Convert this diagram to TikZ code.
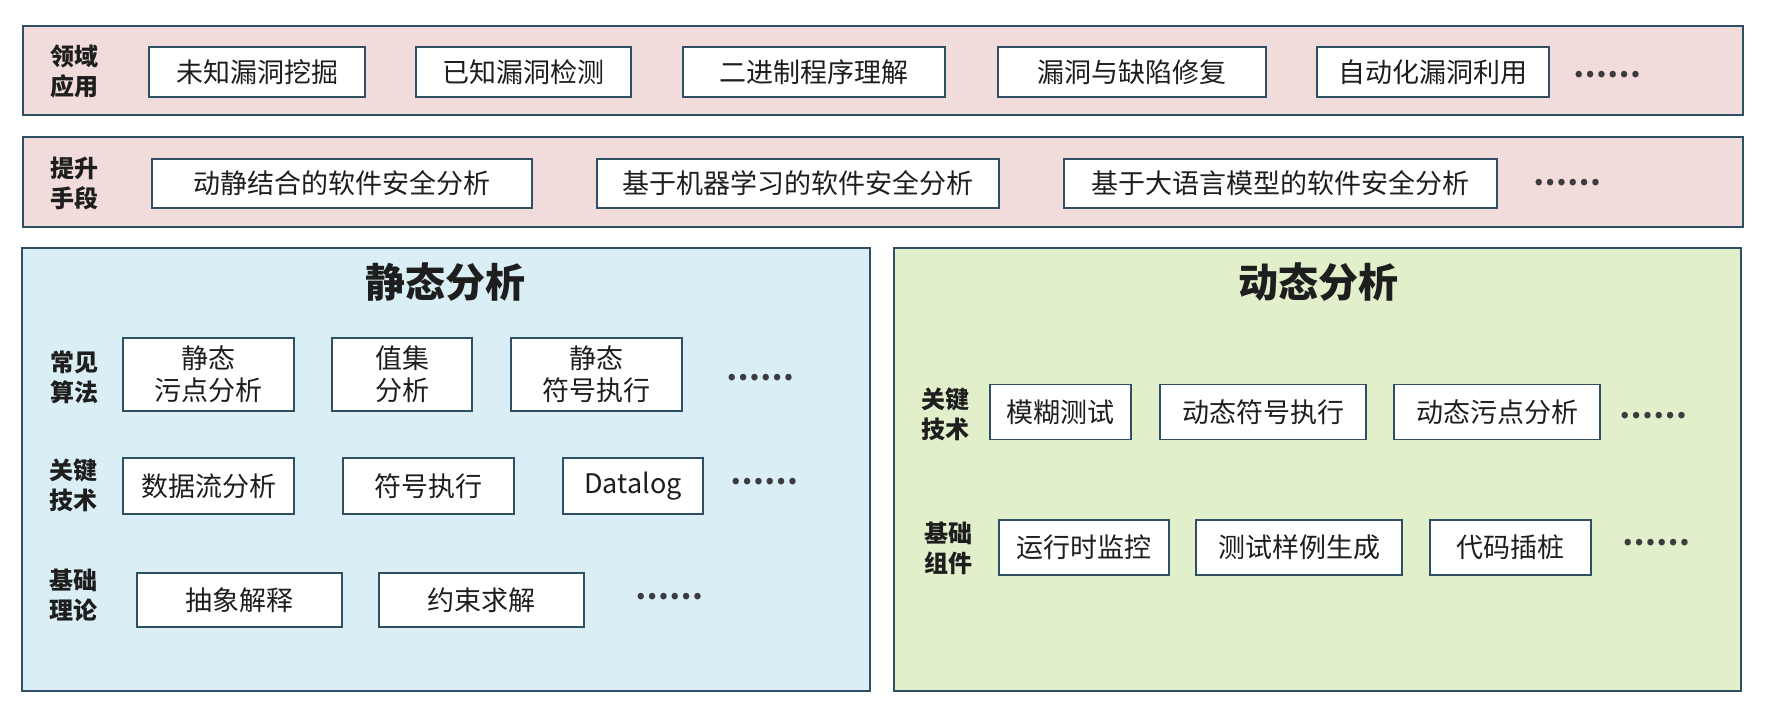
\documentclass[tikz,border=0pt]{standalone}
\usepackage{fontspec}
\setmainfont{Noto Sans CJK SC}
\usepackage{xcolor}
\usepackage{tikz}
\definecolor{Rosa}      {RGB}{242,220,219}
\definecolor{Celeste}   {RGB}{218,238,245}
\definecolor{VerdeClaro}{RGB}{226,239,203}
\definecolor{Borde}     {RGB}{47, 80, 100}
\definecolor{Texto}     {RGB}{30, 30, 30}
\definecolor{Puntos}    {RGB}{60, 60, 64}

\begin{document}
\begin{tikzpicture}[x=1pt,y=-1pt,
    franja/.style={draw=Borde,line width=2pt,inner sep=0pt},
    caja/.style={draw=Borde,line width=1.4pt,fill=white,inner sep=0pt,text=Texto,align=center,font=\fontsize{27}{32}\selectfont},
    etiqueta/.style={text=Texto,align=center,inner sep=0pt,font=\fontsize{24}{30}\selectfont\bfseries},
    titulo/.style={text=Texto,inner sep=0pt,font=\fontsize{40}{48}\selectfont\bfseries},
    puntos/.style={text=Puntos,inner sep=0pt,font=\fontsize{30}{30}\selectfont\bfseries}]
  \useasboundingbox (0,0) rectangle (1780,710);
  % franjas superiores y paneles
  \node[franja,fill=Rosa,minimum width=1720pt,minimum height=89pt] (domain) at (883,70.5) {};
  \node[franja,fill=Rosa,minimum width=1720pt,minimum height=90pt] (boost) at (883,182) {};
  \node[franja,fill=Celeste,minimum width=848pt,minimum height=443pt] (static) at (446,469.5) {};
  \node[franja,fill=VerdeClaro,minimum width=847pt,minimum height=443pt] (dynamic) at (1317.5,469.5) {};

  % 领域应用
  \node[etiqueta] (domainlbl) at (74,71) {领域\\应用};
  \foreach \i/\x/\w/\t in {1/257/216/未知漏洞挖掘,2/523.5/215/已知漏洞检测,3/814/262/二进制程序理解,
                           4/1132/268/漏洞与缺陷修复,5/1433/232/自动化漏洞利用}{
    \node[caja,minimum width=\w pt,minimum height=50pt] (app\i) at (\x,72) {\t};
  }
  \node[puntos] (appdots) at (1607,75) {……};

  % 提升手段
  \node[etiqueta] (boostlbl) at (74,183) {提升\\手段};
  \foreach \i/\x/\w/\t in {1/342/380/动静结合的软件安全分析,2/798/402/基于机器学习的软件安全分析,
                           3/1280.5/433/基于大语言模型的软件安全分析}{
    \node[caja,minimum width=\w pt,minimum height=49pt] (way\i) at (\x,183.5) {\t};
  }
  \node[puntos] (waydots) at (1567,183) {……};

  % 静态分析
  \node[titulo] (statictitle) at (445,282) {静态分析};
  \node[etiqueta] (salgolbl) at (74,377) {常见\\算法};
  \foreach \i/\x/\w/\t in {1/208.5/171/{静态\\污点分析},2/402/140/{值集\\分析},3/596.5/171/{静态\\符号执行}}{
    \node[caja,minimum width=\w pt,minimum height=73pt] (salgo\i) at (\x,374.5) {\t};
  }
  \node[puntos] (salgodots) at (760,378) {……};
  \node[etiqueta] (stechlbl) at (73,485) {关键\\技术};
  \foreach \i/\x/\w/\t in {1/208.5/171/数据流分析,2/428.5/171/符号执行,3/633/140/Datalog}{
    \node[caja,minimum width=\w pt,minimum height=56pt] (stech\i) at (\x,486) {\t};
  }
  \node[puntos] (stechdots) at (764,482) {……};
  \node[etiqueta] (sbaselbl) at (73,595) {基础\\理论};
  \foreach \i/\x/\t in {1/239.5/抽象解释,2/481.5/约束求解}{
    \node[caja,minimum width=205pt,minimum height=54pt] (sbase\i) at (\x,600) {\t};
  }
  \node[puntos] (sbasedots) at (669,597) {……};

  % 动态分析
  \node[titulo] (dyntitle) at (1318,282) {动态分析};
  \node[etiqueta] (dtechlbl) at (945,414) {关键\\技术};
  \foreach \i/\x/\w/\t in {1/1060.5/141/模糊测试,2/1263/206/动态符号执行,3/1497/206/动态污点分析}{
    \node[caja,minimum width=\w pt,minimum height=55pt] (dtech\i) at (\x,412) {\t};
  }
  \node[puntos] (dtechdots) at (1653,416) {……};
  \node[etiqueta] (dbaselbl) at (948,548) {基础\\组件};
  \foreach \i/\x/\w/\t in {1/1084/170/运行时监控,2/1299/206/测试样例生成,3/1510.5/161/代码插桩}{
    \node[caja,minimum width=\w pt,minimum height=55pt] (dbase\i) at (\x,547.5) {\t};
  }
  \node[puntos] (dbasedots) at (1656,543) {……};
\end{tikzpicture}
\end{document}
